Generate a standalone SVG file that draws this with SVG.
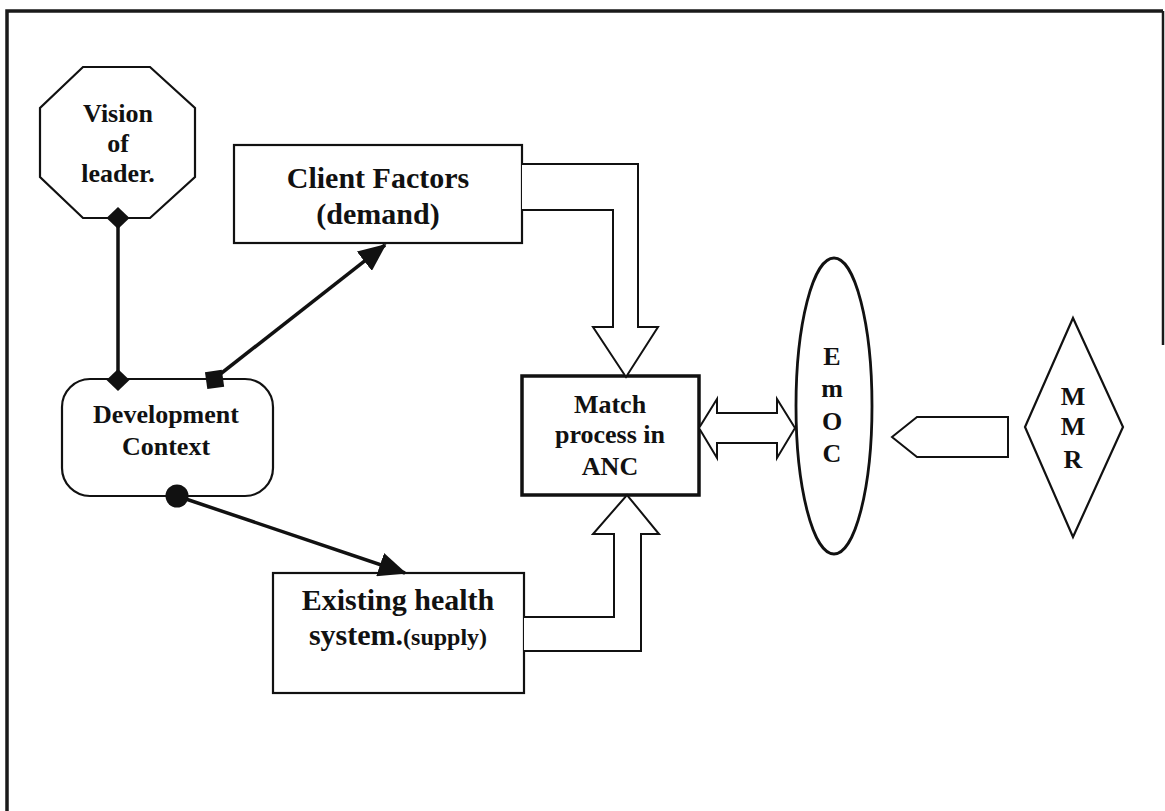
<svg xmlns="http://www.w3.org/2000/svg" width="1165" height="811" viewBox="0 0 1165 811">
<style>
.shape{fill:#fff;stroke:#111;stroke-width:2.2}
.t{font-family:"Liberation Serif","Times New Roman",serif;font-weight:bold;fill:#111;text-anchor:middle}
.s26{font-size:26px}
.s31{font-size:30px}
.conn{stroke:#111;stroke-width:3.5;fill:none}
.blk{fill:#fff;stroke:#111;stroke-width:2;stroke-linejoin:miter}
.end{fill:#111}
</style>
<defs>
<marker id="arr" markerWidth="8" markerHeight="7" refX="7.5" refY="3.5" orient="auto" markerUnits="strokeWidth">
<path d="M0,0 L8,3.5 L0,7 Z" fill="#111"/>
</marker>
</defs>
<rect width="1165" height="811" fill="#fff"/>
<g id="frame" fill="none" stroke="#1a1a1a">
<path d="M7,811 L7,11 L1163,11" stroke-width="3.5"/>
<path d="M1163,11 L1163,345" stroke-width="2.5"/>
</g>
<g id="vision">
<polygon class="shape" points="83,67 150,67 195,108 195,177 150,218 83,218 40,177 40,108"/>
<text class="t s26" x="118" y="122">Vision</text>
<text class="t s26" x="118" y="152">of</text>
<text class="t s26" x="118" y="182">leader.</text>
</g>
<g id="client">
<rect class="shape" x="234" y="145" width="288" height="98"/>
<text class="t s31" x="378" y="188">Client Factors</text>
<text class="t s31" x="378" y="224">(demand)</text>
</g>
<g id="devcontext">
<rect class="shape" x="62" y="379" width="211" height="117" rx="28" ry="28"/>
<text class="t s26" x="166" y="423">Development</text>
<text class="t s26" x="166" y="455">Context</text>
</g>
<g id="existing">
<rect class="shape" x="273" y="573" width="251" height="120"/>
<text class="t s31" x="398" y="610">Existing health</text>
<text class="t" x="398" y="645"><tspan font-size="30px">system.</tspan><tspan font-size="24px">(supply)</tspan></text>
</g>
<g id="match">
<rect class="shape" x="522" y="376" width="177" height="119" style="stroke-width:3.5"/>
<text class="t s26" x="610" y="413">Match</text>
<text class="t s26" x="610" y="443">process in</text>
<text class="t s26" x="610" y="475">ANC</text>
</g>
<g id="emoc">
<ellipse class="shape" cx="834" cy="406" rx="38" ry="148" style="stroke-width:2.8"/>
<text class="t s26" x="832" y="365">E</text>
<text class="t s26" x="832" y="397">m</text>
<text class="t s26" x="832" y="430">O</text>
<text class="t s26" x="832" y="462">C</text>
</g>
<g id="mmr">
<polygon class="shape" points="1073,318 1123,427 1073,537 1025,427"/>
<text class="t s26" x="1073" y="405">M</text>
<text class="t s26" x="1073" y="435">M</text>
<text class="t s26" x="1073" y="468">R</text>
</g>
<g id="connectors">
<line class="conn" x1="118" y1="218" x2="118" y2="380"/>
<line class="conn" x1="214" y1="379" x2="385" y2="245" marker-end="url(#arr)"/>
<line class="conn" x1="177" y1="496" x2="405" y2="573" marker-end="url(#arr)"/>
<path class="blk" d="M522,164 L638,164 L638,327 L658,327 L626,377 L593,327 L613,327 L613,210 L522,210"/>
<path class="blk" d="M524,651 L641,651 L641,534 L659,534 L627,495 L593,534 L614,534 L614,617 L524,617"/>
<polygon class="blk" points="699,428 717,399 717,413 777,413 777,399 795,428 777,458 777,443 717,443 717,458"/>
<polygon class="blk" points="892,437 917,417 1008,417 1008,457 917,457"/>
<polygon class="end" points="118,207 129.5,218 118,229 106.5,218"/>
<polygon class="end" points="118,369 129.5,380 118,391 106.5,380"/>
<rect class="end" x="206" y="371" width="17" height="17" transform="rotate(-8 214 379)"/>
<circle class="end" cx="177" cy="496" r="11.5"/>
</g>
</svg>
